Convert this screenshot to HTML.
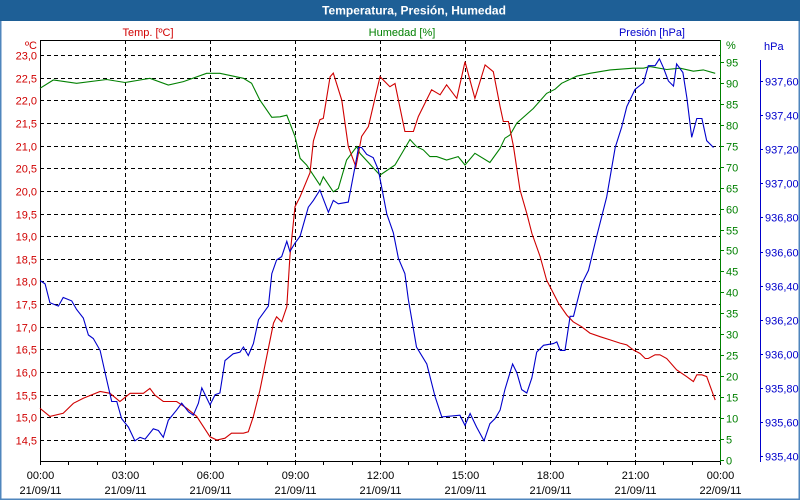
<!DOCTYPE html>
<html><head><meta charset="utf-8">
<style>
html,body{margin:0;padding:0;background:#fff;}
#wrap{position:relative;width:800px;height:500px;overflow:hidden;font-family:"Liberation Sans",sans-serif;}
svg text{font-family:"Liberation Sans",sans-serif;font-size:11px;}
</style></head>
<body>
<div id="wrap">
<svg id="chart" width="800" height="500" xmlns="http://www.w3.org/2000/svg">
  <rect x="0" y="0" width="800" height="500" fill="#ffffff" stroke="#4f86bd" stroke-width="3"/>
  <rect x="0" y="0" width="800" height="21" fill="#1e5f96"/>
  <text x="414" y="14.5" text-anchor="middle" fill="#ffffff" font-weight="bold" style="font-size:12px">Temperatura, Presión, Humedad</text>
  <text x="148" y="36" text-anchor="middle" fill="#d00000">Temp. [ºC]</text>
  <text x="402" y="36" text-anchor="middle" fill="#008000">Humedad [%]</text>
  <text x="685" y="36" text-anchor="end" fill="#0000cc">Presión [hPa]</text>
  <g id="grid"></g>
  <g id="axes"></g>
  <g id="series"></g>
</svg>
</div>
<script>
const tempHours = [0,0.35,0.82,1.18,1.53,2.12,2.47,2.82,3.18,3.65,3.88,4.06,4.35,4.82,5.18,5.53,6.0,6.24,6.53,6.76,7.18,7.35,7.53,7.76,8.0,8.24,8.35,8.53,8.71,8.82,9.0,9.18,9.53,9.65,9.88,10.0,10.24,10.35,10.65,10.88,11.15,11.35,11.59,12.0,12.35,12.53,12.88,13.18,13.35,13.82,14.12,14.35,14.71,15.0,15.35,15.71,16.0,16.24,16.35,16.53,16.71,16.94,17.18,17.36,17.65,17.88,18.12,18.3,18.59,18.82,19.12,19.41,19.77,20.12,20.47,20.71,20.94,21.18,21.36,21.47,21.71,21.88,22.12,22.47,22.82,23.06,23.18,23.36,23.53,23.83];
const tempValues = [15.20,15.02,15.09,15.31,15.42,15.57,15.53,15.35,15.53,15.53,15.64,15.49,15.35,15.35,15.20,15.02,14.57,14.50,14.54,14.65,14.65,14.68,15.02,15.60,16.34,17.08,17.22,17.11,17.44,18.55,19.65,19.87,20.4,21.1,21.57,21.6,22.52,22.6,22.0,20.98,20.53,21.2,21.42,22.52,22.3,22.37,21.31,21.31,21.64,22.23,22.12,22.34,22.04,22.85,22.04,22.78,22.63,21.86,21.53,21.53,20.98,20.02,19.5,19.06,18.55,18.03,17.74,17.52,17.26,17.11,17.0,16.86,16.78,16.71,16.64,16.6,16.49,16.41,16.3,16.3,16.38,16.38,16.3,16.05,15.9,15.79,15.94,15.94,15.9,15.38];

const humHours = [0,0.47,1.29,2.35,3.0,3.53,3.88,4.53,5.06,5.88,6.35,7.18,7.47,7.76,8.18,8.47,8.71,9.0,9.18,9.41,9.88,10.0,10.35,10.53,10.82,11.18,11.29,12.0,12.53,13.06,13.29,13.53,13.76,14.0,14.35,14.76,15.0,15.35,15.88,16.24,16.41,16.59,16.83,17.41,17.88,18.18,18.41,18.94,19.41,20.12,20.94,21.3,21.53,22.12,22.59,23.06,23.41,23.83];
const humValues = [88.7,90.7,89.9,90.8,90.1,90.7,91.1,89.5,90.3,92.3,92.3,91.1,89.9,85.9,81.8,81.9,82.3,77.2,72.0,70.4,65.6,67.6,64.0,64.8,71.6,74.8,73.2,68.0,70.4,76.5,74.8,74.0,72.4,72.4,71.6,72.4,70.4,73.2,71.0,74.4,76.8,77.6,80.4,83.9,87.5,88.5,89.9,91.6,92.3,93.1,93.5,93.5,93.9,93.2,93.5,92.8,93.1,92.3];

const presHours = [0,0.18,0.35,0.65,0.82,1.12,1.29,1.53,1.71,1.88,2.12,2.35,2.53,2.71,2.88,3.12,3.35,3.53,3.71,4.0,4.18,4.35,4.53,4.82,5.0,5.24,5.41,5.59,5.71,6.0,6.18,6.35,6.53,6.82,7.06,7.18,7.35,7.53,7.71,8.06,8.18,8.35,8.53,8.71,8.82,9.0,9.18,9.47,9.65,9.88,10.18,10.35,10.53,10.88,11.12,11.24,11.35,11.53,11.76,11.94,12.24,12.47,12.65,12.88,13.0,13.29,13.65,13.94,14.18,14.82,15.0,15.18,15.41,15.67,15.88,16.06,16.24,16.41,16.68,16.83,17.0,17.18,17.36,17.53,17.77,18.12,18.24,18.36,18.53,18.71,18.83,19.12,19.36,19.65,20.0,20.3,20.53,20.71,21.0,21.3,21.47,21.71,21.86,22.0,22.18,22.36,22.47,22.69,22.83,23.0,23.18,23.36,23.53,23.77,23.83];
const presValues = [936.43,936.41,936.30,936.28,936.33,936.31,936.26,936.21,936.11,936.09,936.02,935.85,935.72,935.72,935.62,935.57,935.49,935.51,935.50,935.56,935.55,935.51,935.61,935.67,935.71,935.66,935.64,935.71,935.80,935.70,935.76,935.77,935.96,936.00,936.01,936.04,935.99,936.06,936.20,936.28,936.47,936.55,936.57,936.66,936.60,936.65,936.69,936.86,936.90,936.96,936.83,936.90,936.88,936.89,937.10,937.21,937.21,937.17,937.15,937.08,936.82,936.71,936.56,936.47,936.32,936.04,935.94,935.75,935.63,935.64,935.58,935.65,935.57,935.49,935.59,935.62,935.67,935.79,935.94,935.89,935.79,935.77,935.86,936.01,936.05,936.06,936.07,936.02,936.02,936.22,936.22,936.41,936.49,936.69,936.92,937.21,937.33,937.45,937.55,937.59,937.69,937.69,937.73,937.68,937.60,937.57,937.70,937.65,937.50,937.27,937.38,937.38,937.25,937.21];

const tempTicks = ["14,5","15,0","15,5","16,0","16,5","17,0","17,5","18,0","18,5","19,0","19,5","20,0","20,5","21,0","21,5","22,0","22,5","23,0"];
const humTicks = ["0","5","10","15","20","25","30","35","40","45","50","55","60","65","70","75","80","85","90","95"];
const presTicks = ["935,40","935,60","935,80","936,00","936,20","936,40","936,60","936,80","937,00","937,20","937,40","937,60"];
const timeLabels = ["00:00","03:00","06:00","09:00","12:00","15:00","18:00","21:00","00:00"];
const dateLabels = ["21/09/11","21/09/11","21/09/11","21/09/11","21/09/11","21/09/11","21/09/11","21/09/11","22/09/11"];

const L=40,R=720,T=40,B=461;
function xScale(h){return L+h*(R-L)/24;}
function yTemp(v){return 440-(v-14.5)*45.3;}
function yHum(v){return 460-v*4.19;}
function yPres(v){return 81+(937.6-v)*170.5;}
function num(s){return parseFloat(s.replace(',','.'));}
const NS="http://www.w3.org/2000/svg";
function mk(tag,attrs,parent){const e=document.createElementNS(NS,tag);for(const k in attrs)e.setAttribute(k,attrs[k]);parent.appendChild(e);return e;}
const grid=document.getElementById('grid'),axes=document.getElementById('axes'),series=document.getElementById('series');

// horizontal grid + temp labels
tempTicks.forEach(t=>{
  const y=Math.round(yTemp(num(t)))+0.5;
  const g=mk('line',{x1:L,x2:R,y1:y,y2:y,stroke:'#000','stroke-dasharray':'4,3','stroke-width':1},grid);
  
  
  const tx=mk('text',{x:37,y:y+4,'text-anchor':'end',fill:'#d00000'},axes);
  tx.textContent=t;
  
  
});
const cu=mk('text',{x:37,y:49,'text-anchor':'end',fill:'#d00000'},axes);
cu.textContent='ºC';



// vertical grid + time labels
timeLabels.forEach((t,i)=>{
  const x=Math.round(xScale(i*3))+0.5;
  if(i>0&&i<8){const g=mk('line',{x1:x,x2:x,y1:T,y2:B,stroke:'#000','stroke-dasharray':'4,3'},grid);
    
    }
  const a=mk('text',{x:x,y:479,'text-anchor':'middle',fill:'#000'},axes);
  a.textContent=t;
  
  
  const d=mk('text',{x:x,y:494,'text-anchor':'middle',fill:'#000'},axes);
  d.textContent=dateLabels[i];
  
  
});
for(let h=0;h<=24;h++){const x=Math.round(xScale(h))+0.5;
  const tk=mk('line',{x1:x,x2:x,y1:B,y2:B+4,stroke:'#000'},axes);
  
  }

// frame lines
const fl=[[L+0.5,T,L+0.5,B+0.5,'#000'],[L,T+0.5,R,T+0.5,'#000'],[L,B+0.5,R+1,B+0.5,'#000'],[R+0.5,T,R+0.5,B+1,'#008000'],[760.5,60,760.5,462,'#0000cc']];
const fln=['y-axis-left','plot-top-border','x-axis','humidity-axis','pressure-axis'];
fl.forEach((f,i)=>{const l=mk('line',{x1:f[0],y1:f[1],x2:f[2],y2:f[3],stroke:f[4]},axes);
  
  });

// humidity axis labels
humTicks.forEach(t=>{const y=Math.round(yHum(num(t)))+0.5;
  const tk=mk('line',{x1:R,x2:R+4,y1:y,y2:y,stroke:'#008000'},axes);
  
  
  const tx=mk('text',{x:726,y:y+4,fill:'#008000'},axes);
  tx.textContent=t;
  
  });
const hu=mk('text',{x:726,y:49,fill:'#008000'},axes);
hu.textContent='%';



// pressure labels
presTicks.forEach(t=>{const y=Math.round(yPres(num(t)))+0.5;
  const tk=mk('line',{x1:760,x2:763,y1:y,y2:y,stroke:'#0000cc'},axes);
  
  
  const tx=mk('text',{x:765,y:y+4,fill:'#0000cc'},axes);
  tx.textContent=t;
  
  });
const pu=mk('text',{x:764,y:50,fill:'#0000cc'},axes);
pu.textContent='hPa';



function line(hours,vals,yf,color,name){
  const pts=hours.map((h,i)=>xScale(h).toFixed(1)+','+yf(vals[i]).toFixed(1)).join(' ');
  const p=mk('polyline',{points:pts,fill:'none',stroke:color,'stroke-width':1.1},series);
  
  
}
line(humHours,humValues,yHum,'#008000','humidity-line');
line(tempHours,tempValues,yTemp,'#d00000','temperature-line');
line(presHours,presValues,yPres,'#0000cc','pressure-line');
</script>
</body></html>
